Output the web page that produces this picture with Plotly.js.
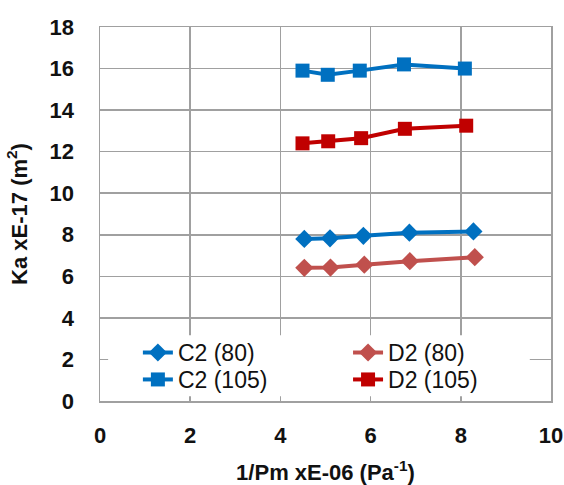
<!DOCTYPE html>
<html>
<head>
<meta charset="utf-8">
<script src="https://cdn.plot.ly/plotly-3.0.1.min.js"></script>
<style>html,body{margin:0;padding:0;background:#fff;}#chart{width:564px;height:485px;}</style>
</head>
<body>
<div id="chart"></div>
<script>
// Data
const seriesNames = ["C2 (80)", "D2 (80)", "C2 (105)", "D2 (105)"];
const c2_80_x = [4.53, 5.10, 5.84, 6.86, 8.28];
const c2_80_y = [7.80, 7.83, 7.95, 8.10, 8.16];
const d2_80_x = [4.53, 5.11, 5.86, 6.87, 8.31];
const d2_80_y = [6.41, 6.42, 6.56, 6.73, 6.92];
const c2_105_x = [4.49, 5.05, 5.76, 6.74, 8.09];
const c2_105_y = [15.9, 15.7, 15.9, 16.2, 16.0];
const d2_105_x = [4.49, 5.06, 5.79, 6.76, 8.12];
const d2_105_y = [12.4, 12.5, 12.65, 13.1, 13.25];
const xTicks = [0, 2, 4, 6, 8, 10];
const yTicks = [0, 2, 4, 6, 8, 10, 12, 14, 16, 18];

const blue = "#0070C0", lightRed = "#C0504D", darkRed = "#C00000";
function tr(name, x, y, color, symbol, legendId) {
  return {type: "scatter", mode: "lines+markers", name: name, x: x, y: y,
    legend: legendId,
    line: {color: color, width: 4},
    marker: {color: color, symbol: symbol, size: 14}};
}
const data = [
  tr(seriesNames[0], c2_80_x, c2_80_y, blue, "diamond", "legend"),
  tr(seriesNames[1], d2_80_x, d2_80_y, lightRed, "diamond", "legend2"),
  tr(seriesNames[2], c2_105_x, c2_105_y, blue, "square", "legend3"),
  tr(seriesNames[3], d2_105_x, d2_105_y, darkRed, "square", "legend4")
];
const grid = "#a0a0a0";
const fam = "Arial, Liberation Sans, sans-serif";
const tickFont = {family: fam, size: 22, color: "#111", weight: "bold"};
function leg(x, y) {
  return {orientation: "h", xanchor: "left", yanchor: "top", x: x, y: y,
    bgcolor: "rgba(0,0,0,0)", borderwidth: 0,
    font: {family: fam, size: 23, color: "#111"},
    itemwidth: 30};
}
const col1 = 0.084, col2 = 0.55, row1 = 0.187, row2 = 0.115;
const layout = {
  width: 564, height: 485,
  margin: {l: 100, r: 13, t: 27, b: 84},
  paper_bgcolor: "#fff", plot_bgcolor: "#fff",
  showlegend: true,
  font: {family: fam, color: "#111"},
  xaxis: {
    range: [0, 10], tickvals: xTicks, ticktext: xTicks.map(String),
    showgrid: true, gridcolor: grid, gridwidth: 1.5, zeroline: false,
    showline: true, mirror: true, linecolor: grid, linewidth: 1.5,
    ticks: "", ticklabelstandoff: 14, tickfont: tickFont, automargin: false,
    title: {text: "1/Pm xE-06 (Pa<sup>-1</sup>)", standoff: 18,
      font: {family: fam, size: 22, color: "#111", weight: "bold"}}
  },
  yaxis: {
    range: [0, 18], tickvals: yTicks, ticktext: yTicks.map(String),
    showgrid: true, gridcolor: grid, gridwidth: 1.5, zeroline: false,
    showline: true, mirror: true, linecolor: grid, linewidth: 1.5,
    ticks: "", ticklabelstandoff: 20, tickfont: tickFont, automargin: false,
    title: {text: "Ka xE-17 (m<sup>2</sup>)", standoff: 16,
      font: {family: fam, size: 22, color: "#111", weight: "bold"}}
  },
  // white panel behind the legend (covers gridlines like the original)
  shapes: [{type: "rect", xref: "paper", yref: "paper",
    x0: 0.018, x1: 0.953, y0: 0.013, y1: 0.176,
    fillcolor: "#fff", line: {width: 0}, layer: "above"}],
  legend: leg(col1, row1),
  legend2: leg(col2, row1),
  legend3: leg(col1, row2),
  legend4: leg(col2, row2)
};
Plotly.newPlot("chart", data, layout, {displayModeBar: false, staticPlot: true});
</script>
</body>
</html>
